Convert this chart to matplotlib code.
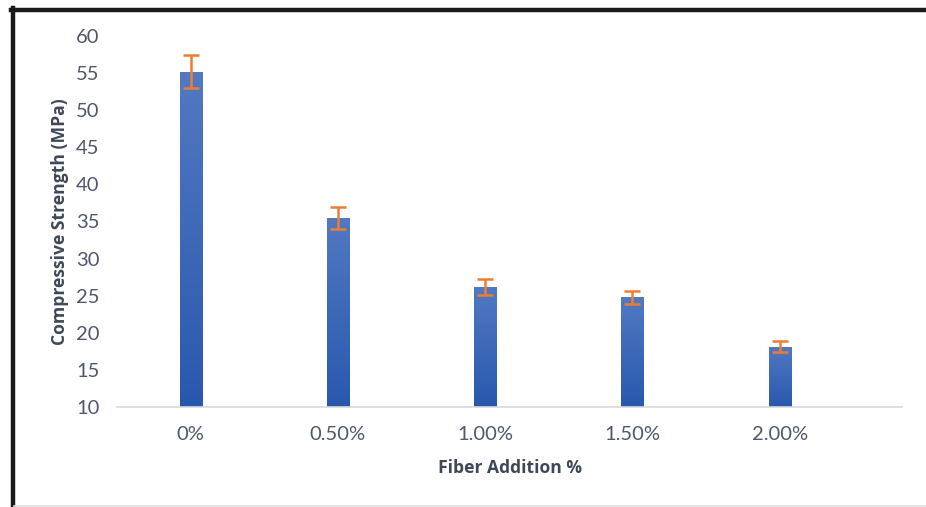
import numpy as np
import matplotlib
matplotlib.use("Agg")
import matplotlib.pyplot as plt
from matplotlib.lines import Line2D
from matplotlib.colors import LinearSegmentedColormap

categories = ["0%", "0.50%", "1.00%", "1.50%", "2.00%"]
strength = [55.2, 35.5, 26.2, 24.8, 18.1]
errors = [2.25, 1.5, 1.1, 0.9, 0.75]
y_ticks = [10, 15, 20, 25, 30, 35, 40, 45, 50, 55, 60]

plt.rcParams["font.family"] = ["Lato", "DejaVu Sans"]

fig = plt.figure(figsize=(9.26, 5.07), dpi=100)
ax = fig.add_axes([117 / 926, 1 - 407 / 507, (902 - 117) / 926, (407 - 36) / 507])

x = np.arange(len(categories))
bars = ax.bar(x, np.array(strength) - 10, bottom=10, width=0.15,
              color="none", edgecolor="none", zorder=2)

# vertical gradient fill for each bar
cmap = LinearSegmentedColormap.from_list("blues", ["#2858AE", "#5279C2"])
grad = np.linspace(0, 1, 256).reshape(-1, 1)
for b in bars:
    x0, y0 = b.get_x(), b.get_y()
    w, h = b.get_width(), b.get_height()
    im = ax.imshow(grad, cmap=cmap, origin="lower", aspect="auto",
                   extent=(x0, x0 + w, y0, y0 + h), zorder=2)
    im.set_clip_path(b)

ax.errorbar(x, strength, yerr=errors, fmt="none", ecolor="#ED7D31",
            elinewidth=1.8, capsize=6, capthick=1.8, zorder=3)

ax.set_xlim(-0.5, 4.83)
ax.set_ylim(10, 60)
ax.set_yticks(y_ticks)
ax.set_xticks(x)
ax.set_xticklabels(categories)

for s in ["top", "right", "left"]:
    ax.spines[s].set_visible(False)
ax.spines["bottom"].set_color("#D9D9D9")
ax.spines["bottom"].set_linewidth(1.2)
ax.tick_params(axis="both", length=0, colors="#4E586A", labelsize=14.5)
ax.tick_params(axis="y", pad=12.5)
ax.tick_params(axis="x", pad=14)

label_font = dict(family=["Open Sans", "DejaVu Sans"], fontsize=12.6,
                  fontweight="bold", color="#3E4858")
ax.set_ylabel("Compressive Strength (MPa)", labelpad=5, **label_font)
ax.set_xlabel("Fiber Addition %", labelpad=11, **label_font)

# frame around the chart area
fig.add_artist(Line2D([12.5 / 926, 12.5 / 926], [0, 1 - 8 / 507],
                      transform=fig.transFigure, color="#1A1A1A", lw=3.2))
fig.add_artist(Line2D([11 / 926, 1], [1 - 9.5 / 507, 1 - 9.5 / 507],
                      transform=fig.transFigure, color="#1A1A1A", lw=3.2))
fig.add_artist(Line2D([14 / 926, 1], [1.5 / 507, 1.5 / 507],
                      transform=fig.transFigure, color="#E0E0E0", lw=1.2))

fig.savefig("out.png", dpi=100)
